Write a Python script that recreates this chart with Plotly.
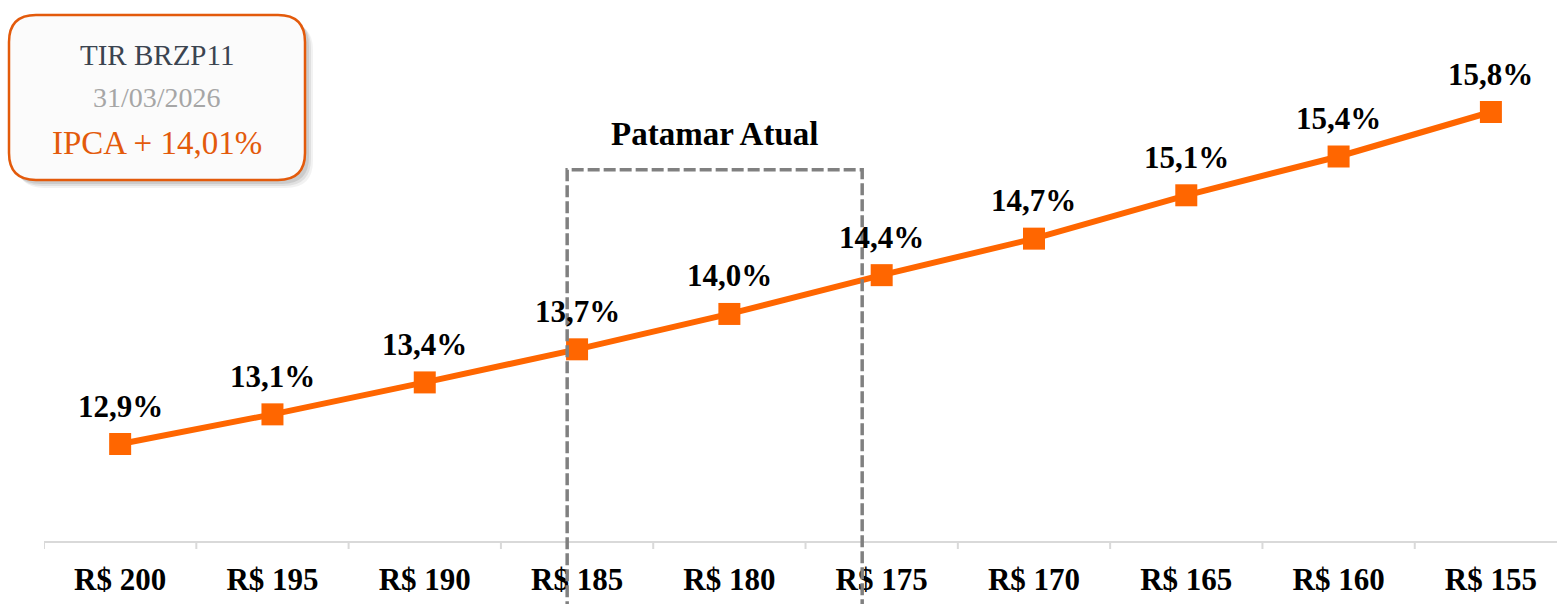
import plotly.graph_objects as go

categories = ["R$ 200", "R$ 195", "R$ 190", "R$ 185", "R$ 180",
              "R$ 175", "R$ 170", "R$ 165", "R$ 160", "R$ 155"]
tir_values = [12.88, 13.14, 13.42, 13.71, 14.02, 14.36, 14.68, 15.06, 15.40, 15.79]
box_title = "TIR BRZP11"
box_date = "31/03/2026"
box_value = "IPCA + 14,01%"
highlight_title = "Patamar Atual"

ORANGE = "#FF6600"
FONT = "Liberation Serif"

W, H = 1557, 604
ML, MT, MB = 44, 10, 63

fig = go.Figure()
fig.add_trace(go.Scatter(
    x=list(range(len(categories))), y=tir_values,
    mode="lines+markers",
    line=dict(color=ORANGE, width=6),
    marker=dict(symbol="square", size=22, color=ORANGE),
    hoverinfo="skip", showlegend=False,
))

labels = [f"{v:.1f}%".replace(".", ",") for v in tir_values]
for i, (v, t) in enumerate(zip(tir_values, labels)):
    fig.add_annotation(x=i, y=v, text=f"<b>{t}</b>", showarrow=False,
                       yshift=38, font=dict(family=FONT, size=31, color="#000000"))

# dashed highlight region (open at the bottom)
fig.add_shape(type="rect", xref="x", yref="paper", x0=2.935, x1=4.872,
              y0=-0.3, y1=0.699, line=dict(color="#808080", width=3.5, dash="12px,4px"),
              fillcolor="rgba(0,0,0,0)", layer="above")
fig.add_annotation(xref="x", yref="paper", x=3.9, y=0.767, text=f"<b>{highlight_title}</b>",
                   xanchor="center", yanchor="middle",
                   showarrow=False, font=dict(family=FONT, size=33, color="#000000"))

# info box (pixel -> paper helpers)
pw, ph = W - ML, H - MT - MB
def px(x):
    return (x - ML) / pw
def py(y):
    return (H - MB - y) / ph

def rounded_path(x0, y0, x1, y1, r):
    return (f"M {px(x0 + r)},{py(y0)} L {px(x1 - r)},{py(y0)} "
            f"Q {px(x1)},{py(y0)} {px(x1)},{py(y0 + r)} "
            f"L {px(x1)},{py(y1 - r)} Q {px(x1)},{py(y1)} {px(x1 - r)},{py(y1)} "
            f"L {px(x0 + r)},{py(y1)} Q {px(x0)},{py(y1)} {px(x0)},{py(y1 - r)} "
            f"L {px(x0)},{py(y0 + r)} Q {px(x0)},{py(y0)} {px(x0 + r)},{py(y0)} Z")

for off, op in [(8, 0.05), (6, 0.07), (4, 0.09)]:
    fig.add_shape(type="path", xref="paper", yref="paper",
                  path=rounded_path(9 + off, 15 + off, 305 + off, 180 + off, 27),
                  fillcolor=f"rgba(0,0,0,{op})", line=dict(width=0), layer="above")
fig.add_shape(type="path", xref="paper", yref="paper",
              path=rounded_path(9, 15, 305, 180, 27),
              fillcolor="#FBFBFB", line=dict(color="#E35A0B", width=2.5), layer="above")

fig.add_annotation(xref="paper", yref="paper", x=px(157), y=py(55), text=box_title,
                   xanchor="center", yanchor="middle",
                   showarrow=False, font=dict(family=FONT, size=29, color="#3B4450"))
fig.add_annotation(xref="paper", yref="paper", x=px(157), y=py(97), text=box_date,
                   xanchor="center", yanchor="middle",
                   showarrow=False, font=dict(family=FONT, size=28, color="#A6A6A6"))
fig.add_annotation(xref="paper", yref="paper", x=px(157), y=py(143), text=box_value,
                   xanchor="center", yanchor="middle",
                   showarrow=False, font=dict(family=FONT, size=33, color="#E35A0B"))

fig.update_layout(
    width=W, height=H,
    margin=dict(l=ML, r=0, t=MT, b=MB),
    paper_bgcolor="white", plot_bgcolor="white",
    xaxis=dict(
        type="linear", range=[-0.5, 9.434],
        tickmode="array", tickvals=list(range(len(categories))),
        ticktext=[f"<b>{c}</b>" for c in categories],
        tickfont=dict(family=FONT, size=31, color="#000000"),
        showgrid=False, zeroline=False,
        showline=True, linecolor="#D9D9D9", linewidth=2,
        ticks="", ticklabelstandoff=10,
        fixedrange=True,
    ),
    yaxis=dict(range=[12.03, 16.684], visible=False, showgrid=False, fixedrange=True),
)
# boundary tick marks at category boundaries
for b in range(len(categories) + 1):
    fig.add_shape(type="line", xref="x", yref="paper", x0=b - 0.5, x1=b - 0.5,
                  y0=0, y1=-8 / ph, line=dict(color="#D9D9D9", width=2))

fig.write_html("out.html", config={"displayModeBar": False},
               post_script="document.body.style.margin='0';document.body.style.overflow='hidden';")
